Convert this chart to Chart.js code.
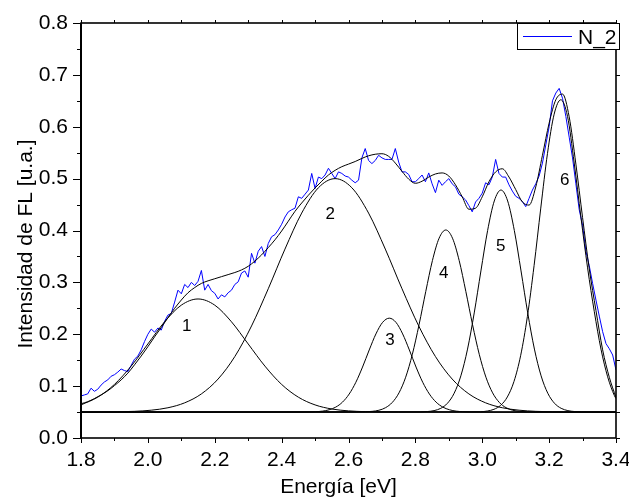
<!DOCTYPE html>
<html>
<head>
<meta charset="utf-8">
<script src="https://cdn.jsdelivr.net/npm/chart.js@4.4.1/dist/chart.umd.min.js"></script>
<style>
html,body{margin:0;padding:0;background:#ffffff;}
#wrap{width:629px;height:497px;position:relative;}
</style>
</head>
<body>
<div id="wrap"><canvas id="c" width="629" height="497"></canvas></div>
<script>
// ---------- DATA ----------
const energyN2 = [1.80,1.81,1.82,1.83,1.84,1.85,1.86,1.87,1.88,1.89,1.90,1.91,1.92,1.93,1.94,1.95,1.96,1.97,1.98,1.99,
2.00,2.01,2.02,2.03,2.04,2.05,2.06,2.07,2.08,2.09,2.10,2.11,2.12,2.13,2.14,2.15,2.16,2.17,2.18,2.19,
2.20,2.21,2.22,2.23,2.24,2.25,2.26,2.27,2.28,2.29,2.30,2.31,2.32,2.33,2.34,2.35,2.36,2.37,2.38,2.39,
2.40,2.41,2.42,2.43,2.44,2.45,2.46,2.47,2.48,2.49,2.50,2.51,2.52,2.53,2.54,2.55,2.56,2.57,2.58,2.59,
2.60,2.61,2.62,2.63,2.64,2.65,2.66,2.67,2.68,2.69,2.70,2.71,2.72,2.73,2.74,2.75,2.76,2.77,2.78,2.79,
2.80,2.81,2.82,2.83,2.84,2.85,2.86,2.87,2.88,2.89,2.90,2.91,2.92,2.93,2.94,2.95,2.96,2.97,2.98,2.99,
3.00,3.01,3.02,3.03,3.04,3.05,3.06,3.07,3.08,3.09,3.10,3.11,3.12,3.13,3.14,3.15,3.16,3.17,3.18,3.19,
3.20,3.21,3.22,3.23,3.24,3.25,3.26,3.27,3.28,3.29,3.30,3.31,3.32,3.33,3.34,3.35,3.36,3.37,3.38,3.39,3.40];
const intensityN2 = [0.081,0.083,0.085,0.096,0.090,0.094,0.102,0.108,0.112,0.119,0.122,0.127,0.133,0.130,0.128,0.140,0.152,0.158,0.170,0.186,
0.200,0.210,0.204,0.212,0.208,0.225,0.237,0.240,0.262,0.285,0.278,0.296,0.290,0.300,0.294,0.302,0.323,0.285,0.296,0.284,
0.279,0.268,0.276,0.272,0.280,0.285,0.296,0.301,0.318,0.322,0.310,0.356,0.337,0.360,0.369,0.350,0.375,0.388,0.392,0.401,
0.412,0.426,0.436,0.440,0.443,0.465,0.462,0.470,0.478,0.510,0.481,0.503,0.500,0.507,0.520,0.510,0.500,0.513,0.510,0.505,
0.503,0.497,0.492,0.497,0.540,0.558,0.535,0.529,0.535,0.545,0.540,0.537,0.537,0.537,0.558,0.532,0.513,0.513,0.508,0.494,
0.494,0.500,0.507,0.494,0.511,0.490,0.473,0.497,0.487,0.494,0.500,0.490,0.484,0.470,0.465,0.459,0.448,0.436,0.455,0.462,
0.472,0.492,0.488,0.503,0.537,0.510,0.503,0.503,0.488,0.476,0.466,0.462,0.456,0.446,0.462,0.478,0.490,0.505,0.530,0.565,
0.600,0.650,0.665,0.674,0.655,0.620,0.580,0.540,0.490,0.440,0.410,0.360,0.332,0.298,0.266,0.235,0.205,0.182,0.172,0.160,0.131];

// cumulative fit curve
const energyFit = [1.80,1.82,1.84,1.86,1.88,1.90,1.92,1.94,1.96,1.98,2.00,2.02,2.04,2.06,2.08,2.10,2.12,2.14,2.16,2.18,
2.20,2.22,2.24,2.26,2.28,2.30,2.32,2.34,2.36,2.38,2.40,2.42,2.44,2.46,2.48,2.50,2.52,2.54,2.56,2.58,
2.60,2.62,2.64,2.66,2.68,2.70,2.72,2.74,2.76,2.78,2.80,2.82,2.84,2.86,2.88,2.90,2.92,2.94,2.96,2.98,
3.00,3.02,3.04,3.06,3.08,3.10,3.12,3.14,3.16,3.18,3.20,3.22,3.24,3.26,3.28,3.30,3.32,3.34,3.36,3.38,3.40];
const intensityFit = [0.066,0.070,0.076,0.083,0.091,0.101,0.112,0.125,0.141,0.158,0.176,0.195,0.213,0.232,0.250,0.266,0.280,0.290,0.298,0.303,
0.307,0.311,0.315,0.319,0.324,0.331,0.341,0.353,0.367,0.382,0.399,0.418,0.437,0.453,0.468,0.482,0.495,0.507,0.516,0.523,
0.528,0.533,0.539,0.544,0.547,0.548,0.543,0.530,0.514,0.499,0.491,0.495,0.503,0.509,0.511,0.505,0.488,0.465,0.441,0.443,
0.465,0.494,0.513,0.519,0.503,0.479,0.455,0.449,0.484,0.545,0.607,0.652,0.663,0.619,0.528,0.425,0.326,0.246,0.170,0.117,0.078];

// peak components
const energyPeak1 = [1.80,1.85,1.90,1.95,2.00,2.05,2.10,2.15,2.20,2.25,2.30,2.35,2.40,2.45,2.50,2.55,2.60,2.65,2.70,2.75,3.40];
const intensityPeak1 = [0.0638,0.0787,0.1033,0.1386,0.1813,0.2240,0.2561,0.2680,0.2561,0.2240,0.1813,0.1386,0.1033,0.0787,0.0638,0.0559,0.0523,0.0508,0.0502,0.0500,0.0500];

const energyPeak2 = [1.80,1.86,1.91,1.96,2.01,2.06,2.11,2.16,2.21,2.26,2.31,2.36,2.41,2.46,2.51,2.56,2.61,2.66,2.71,2.76,2.81,2.86,2.91,2.96,3.01,3.06,3.11,3.16,3.21,3.26,3.40];
const intensityPeak2 = [0.0500,0.0502,0.0505,0.0514,0.0536,0.0583,0.0678,0.0850,0.1137,0.1570,0.2160,0.2877,0.3642,0.4336,0.4824,0.5000,0.4824,0.4336,0.3642,0.2877,0.2160,0.1570,0.1137,0.0850,0.0678,0.0583,0.0536,0.0514,0.0505,0.0502,0.0500];

const energyPeak3 = [1.80,2.482,2.502,2.522,2.542,2.562,2.582,2.602,2.622,2.642,2.662,2.682,2.702,2.722,2.742,2.762,2.782,2.802,2.822,2.842,2.862,2.882,2.902,2.922,2.942,2.962,3.40];
const intensityPeak3 = [0.0500,0.0502,0.0507,0.0518,0.0544,0.0596,0.0691,0.0847,0.1074,0.1368,0.1697,0.2006,0.2229,0.2310,0.2229,0.2006,0.1697,0.1368,0.1074,0.0847,0.0691,0.0596,0.0544,0.0518,0.0507,0.0502,0.0500];

const energyPeak4 = [1.80,2.631,2.651,2.671,2.691,2.711,2.731,2.751,2.771,2.791,2.811,2.831,2.851,2.871,2.891,2.911,2.931,2.951,2.971,2.991,3.011,3.031,3.051,3.071,3.091,3.111,3.131,3.151,3.40];
const intensityPeak4 = [0.0500,0.0502,0.0505,0.0514,0.0535,0.0585,0.0686,0.0870,0.1172,0.1614,0.2184,0.2822,0.3421,0.3852,0.4010,0.3852,0.3421,0.2822,0.2184,0.1614,0.1172,0.0870,0.0686,0.0585,0.0535,0.0514,0.0505,0.0502,0.0500];

const energyPeak5 = [1.80,2.816,2.836,2.856,2.876,2.896,2.916,2.936,2.956,2.976,2.996,3.016,3.036,3.056,3.076,3.096,3.116,3.136,3.156,3.176,3.196,3.216,3.236,3.256,3.276,3.296,3.40];
const intensityPeak5 = [0.0500,0.0503,0.0510,0.0528,0.0572,0.0670,0.0863,0.1198,0.1714,0.2411,0.3220,0.3998,0.4569,0.4780,0.4569,0.3998,0.3220,0.2411,0.1714,0.1198,0.0863,0.0670,0.0572,0.0528,0.0510,0.0503,0.0500];

const energyPeak6 = [1.80,2.995,3.015,3.035,3.055,3.075,3.095,3.115,3.135,3.155,3.175,3.195,3.215,3.235,3.255,3.275,3.295,3.315,3.335,3.355,3.375,3.395,3.40];
const intensityPeak6 = [0.0500,0.0507,0.0520,0.0553,0.0630,0.0791,0.1092,0.1595,0.2343,0.3323,0.4432,0.5482,0.6242,0.6520,0.6200,0.5300,0.4260,0.3280,0.2440,0.1715,0.1180,0.0820,0.0760];

const energyBase = [1.80, 3.40];
const intensityBase = [0.05, 0.05];

const peakLabels = ['1','2','3','4','5','6'];
const peakLabelEnergy = [2.116, 2.545, 2.724, 2.885, 3.055, 3.247];
const peakLabelIntensity = [0.215, 0.432, 0.189, 0.318, 0.370, 0.497];

const legendLabel = 'N_2';
const xTitle = 'Energía [eV]';
const yTitle = 'Intensidad de FL [u.a.]';

// ---------- helpers ----------
function pts(xs, ys){ return xs.map((x,i)=>({x:x, y:ys[i]})); }
const FONT = '"Liberation Sans", Arial, sans-serif';
const BLUE = '#0000ff';

function blackCurve(xs, ys){
  return {data: pts(xs, ys), borderColor:'#000000', borderWidth:1, pointRadius:0, fill:false,
          cubicInterpolationMode:'monotone', showLine:true};
}

const datasets = [
  blackCurve(energyFit, intensityFit),
  blackCurve(energyPeak1, intensityPeak1),
  blackCurve(energyPeak2, intensityPeak2),
  blackCurve(energyPeak3, intensityPeak3),
  blackCurve(energyPeak4, intensityPeak4),
  blackCurve(energyPeak5, intensityPeak5),
  blackCurve(energyPeak6, intensityPeak6),
  {data: pts(energyBase, intensityBase), borderColor:'#000000', borderWidth:1.2, pointRadius:0, fill:false, tension:0, showLine:true},
  {label: legendLabel, data: pts(energyN2, intensityN2), borderColor:BLUE, borderWidth:1, pointRadius:0, fill:false, tension:0, showLine:true}
];

const decor = {
  id:'decor',
  afterDatasetsDraw(chart){
    const ctx = chart.ctx, a = chart.chartArea, xs = chart.scales.x, ys = chart.scales.y;
    ctx.save();
    // peak numbers
    ctx.fillStyle = '#000';
    ctx.font = '17px ' + FONT;
    ctx.textAlign = 'center';
    ctx.textBaseline = 'middle';
    peakLabels.forEach((t,i)=>{
      ctx.fillText(t, xs.getPixelForValue(peakLabelEnergy[i]), ys.getPixelForValue(peakLabelIntensity[i]));
    });
    // frame
    ctx.strokeStyle = '#000';
    ctx.lineWidth = 1.6;
    ctx.strokeRect(a.left, a.top, a.right - a.left, a.bottom - a.top);
    ctx.lineWidth = 2;
    ctx.beginPath(); ctx.moveTo(a.left, a.top); ctx.lineTo(a.left, a.bottom); ctx.stroke();
    // ticks
    ctx.lineWidth = 1;
    ctx.beginPath();
    const xt = xs.ticks.map(t=>t.value);
    const yt = ys.ticks.map(t=>t.value);
    xt.forEach((v,i)=>{
      const p = Math.round(xs.getPixelForValue(v)) + 0.5;
      ctx.moveTo(p, a.bottom); ctx.lineTo(p, a.bottom + 5);
      ctx.moveTo(p, a.top); ctx.lineTo(p, a.top - 3);
      if (i < xt.length - 1){
        const m = Math.round(xs.getPixelForValue((v + xt[i+1]) / 2)) + 0.5;
        ctx.moveTo(m, a.bottom); ctx.lineTo(m, a.bottom + 3);
        ctx.moveTo(m, a.top); ctx.lineTo(m, a.top - 3);
      }
    });
    yt.forEach((v,i)=>{
      const p = Math.round(ys.getPixelForValue(v)) + 0.5;
      ctx.moveTo(a.left, p); ctx.lineTo(a.left - 8, p);
      ctx.moveTo(a.right, p); ctx.lineTo(a.right + 4, p);
      if (i < yt.length - 1){
        const m = Math.round(ys.getPixelForValue((v + yt[i+1]) / 2)) + 0.5;
        ctx.moveTo(a.left, m); ctx.lineTo(a.left - 4, m);
        ctx.moveTo(a.right, m); ctx.lineTo(a.right + 4, m);
      }
    });
    ctx.stroke();
    // legend box
    const bw = 102, bh = 26;
    const bx = a.right + 3 - bw, by = a.top;
    ctx.fillStyle = '#fff';
    ctx.fillRect(bx, by, bw, bh);
    ctx.strokeStyle = '#000';
    ctx.lineWidth = 1;
    ctx.strokeRect(bx + 0.5, by + 0.5, bw, bh);
    ctx.strokeStyle = BLUE;
    ctx.beginPath();
    ctx.moveTo(bx + 6, by + 13.5); ctx.lineTo(bx + 55, by + 13.5);
    ctx.stroke();
    ctx.fillStyle = '#000';
    ctx.font = '21px ' + FONT;
    ctx.textAlign = 'left';
    ctx.textBaseline = 'alphabetic';
    ctx.fillText(legendLabel, bx + 61, by + 21);
    // axis titles
    ctx.textAlign = 'center';
    ctx.fillText(xTitle, (a.left + a.right) / 2 - 10, a.bottom + 55);
    ctx.translate(32, (a.top + a.bottom) / 2 + 13.5);
    ctx.rotate(-Math.PI / 2);
    ctx.fillText(yTitle, 0, 0);
    ctx.restore();
  }
};

Chart.defaults.font.family = FONT;
Chart.defaults.color = '#000';

new Chart(document.getElementById('c'), {
  type: 'scatter',
  data: { datasets: datasets },
  options: {
    responsive: false,
    animation: false,
    devicePixelRatio: 1,
    layout: { padding: { top: 23, right: 13, left: 0, bottom: 0 } },
    plugins: { legend: { display: false }, tooltip: { enabled: false } },
    scales: {
      x: {
        type: 'linear', min: 1.8, max: 3.4,
        grid: { display: false, drawTicks: false },
        border: { display: false },
        ticks: { stepSize: 0.2, padding: 10, font: { size: 21 }, maxRotation: 0,
                 callback: v => Number(v).toFixed(1) },
        afterFit: s => { s.height = 59; s.paddingLeft = 0; s.paddingRight = 0; }
      },
      y: {
        type: 'linear', min: 0, max: 0.8,
        grid: { display: false, drawTicks: false },
        border: { display: false },
        ticks: { stepSize: 0.1, padding: 13, font: { size: 21 },
                 callback: v => Number(v).toFixed(1) },
        afterFit: s => { s.width = 81; s.paddingTop = 0; s.paddingBottom = 0; }
      }
    }
  },
  plugins: [decor]
});
</script>
</body>
</html>
